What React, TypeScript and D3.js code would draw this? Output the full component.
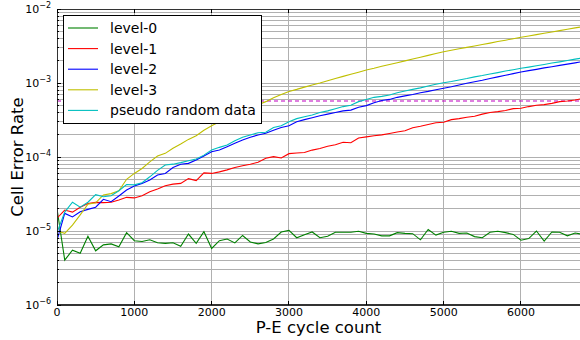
import React from 'react'
import * as d3 from 'd3'

// P-E cycles sampled every 100 cycles
const cycles = d3.range(0, 6801, 100)

const level0 = [
  2.0e-5, 4.05e-6, 5.5e-6, 5.0e-6, 8.5e-6, 5.4e-6, 6.5e-6, 6.7e-6, 6.1e-6, 9.5e-6,
  7.4e-6, 7.2e-6, 7.6e-6, 6.95e-6, 6.8e-6, 6.95e-6, 6.2e-6, 9.1e-6, 6.8e-6, 9.8e-6,
  5.8e-6, 7.4e-6, 7.8e-6, 6.9e-6, 8.7e-6, 7.1e-6, 6.7e-6, 7.0e-6, 7.8e-6, 9.7e-6,
  1.02e-5, 8.1e-6, 8.9e-6, 9.7e-6, 8.1e-6, 8.5e-6, 9.6e-6, 9.6e-6, 9.6e-6, 9.9e-6,
  9.3e-6, 9.1e-6, 8.6e-6, 8.6e-6, 9.5e-6, 9.3e-6, 9.2e-6, 7.6e-6, 1.05e-5, 8.8e-6,
  9.6e-6, 9.9e-6, 9.3e-6, 9.4e-6, 8.4e-6, 8.1e-6, 9.6e-6, 9.9e-6, 9.5e-6, 9.0e-6,
  7.5e-6, 7.9e-6, 1.0e-5, 7.3e-6, 9.7e-6, 9.6e-6, 8.6e-6, 9.4e-6, 9.0e-6
]

const level1 = [
  1.49e-5, 1.92e-5, 1.8e-5, 2.09e-5, 2.35e-5, 2.44e-5, 2.42e-5, 2.45e-5, 2.62e-5, 2.85e-5,
  2.8e-5, 3.0e-5, 3.4e-5, 3.7e-5, 4.1e-5, 4.3e-5, 4.4e-5, 5.1e-5, 4.8e-5, 6.1e-5,
  6.0e-5, 6.3e-5, 6.7e-5, 7.2e-5, 7.6e-5, 8.0e-5, 8.5e-5, 9.6e-5, 1.01e-4, 9.7e-5,
  1.11e-4, 1.13e-4, 1.15e-4, 1.24e-4, 1.3e-4, 1.4e-4, 1.46e-4, 1.58e-4, 1.56e-4, 1.81e-4,
  1.87e-4, 1.94e-4, 1.99e-4, 2.08e-4, 2.18e-4, 2.26e-4, 2.48e-4, 2.6e-4, 2.75e-4, 2.9e-4,
  2.95e-4, 3.2e-4, 3.3e-4, 3.45e-4, 3.55e-4, 3.8e-4, 4.0e-4, 4.1e-4, 4.25e-4, 4.5e-4,
  4.55e-4, 4.8e-4, 5.0e-4, 5.1e-4, 5.3e-4, 5.6e-4, 5.7e-4, 5.9e-4, 6.2e-4
]

const level2 = [
  7.5e-6, 1.73e-5, 1.55e-5, 1.82e-5, 1.96e-5, 2.1e-5, 2.68e-5, 2.49e-5, 2.97e-5, 3.58e-5,
  4.06e-5, 4.4e-5, 4.9e-5, 5.7e-5, 6.0e-5, 7.2e-5, 8.0e-5, 8.2e-5, 9.1e-5, 1.03e-4,
  1.18e-4, 1.24e-4, 1.38e-4, 1.53e-4, 1.7e-4, 1.85e-4, 1.98e-4, 2.09e-4, 2.3e-4, 2.5e-4,
  2.65e-4, 3.0e-4, 3.2e-4, 3.4e-4, 3.6e-4, 3.8e-4, 4.0e-4, 4.2e-4, 4.3e-4, 4.7e-4,
  4.95e-4, 5.4e-4, 5.8e-4, 6.0e-4, 6.4e-4, 6.7e-4, 7.0e-4, 7.4e-4, 7.7e-4, 8.1e-4,
  8.5e-4, 8.9e-4, 9.4e-4, 9.9e-4, 1.04e-3, 1.09e-3, 1.15e-3, 1.21e-3, 1.27e-3, 1.34e-3,
  1.41e-3, 1.47e-3, 1.53e-3, 1.6e-3, 1.66e-3, 1.73e-3, 1.8e-3, 1.87e-3, 1.95e-3
]

const level3 = [
  1.0e-5, 9.3e-6, 1.2e-5, 1.65e-5, 2.3e-5, 2.4e-5, 3.07e-5, 3.2e-5, 3.5e-5, 5.0e-5,
  6.0e-5, 7.0e-5, 8.6e-5, 1.03e-4, 1.12e-4, 1.31e-4, 1.5e-4, 1.73e-4, 1.94e-4, 2.3e-4,
  2.65e-4, 3.0e-4, 3.36e-4, 3.73e-4, 4.15e-4, 4.6e-4, 5.1e-4, 5.6e-4, 6.3e-4, 7.0e-4,
  7.7e-4, 8.2e-4, 8.8e-4, 9.4e-4, 1.0e-3, 1.07e-3, 1.15e-3, 1.23e-3, 1.31e-3, 1.4e-3,
  1.5e-3, 1.58e-3, 1.68e-3, 1.78e-3, 1.88e-3, 1.99e-3, 2.11e-3, 2.23e-3, 2.36e-3, 2.5e-3,
  2.65e-3, 2.77e-3, 2.9e-3, 3.03e-3, 3.17e-3, 3.31e-3, 3.46e-3, 3.63e-3, 3.79e-3, 3.97e-3,
  4.15e-3, 4.32e-3, 4.51e-3, 4.7e-3, 4.9e-3, 5.1e-3, 5.32e-3, 5.56e-3, 5.78e-3
]

const pseudo = [
  9.5e-6, 1.8e-5, 2.45e-5, 2.1e-5, 2.45e-5, 3.1e-5, 2.9e-5, 3.0e-5, 3.5e-5, 4.25e-5,
  4.2e-5, 4.5e-5, 5.4e-5, 6.6e-5, 7.8e-5, 8.0e-5, 8.4e-5, 8.9e-5, 9.4e-5, 1.06e-4,
  1.24e-4, 1.35e-4, 1.45e-4, 1.66e-4, 1.85e-4, 1.98e-4, 2.13e-4, 2.16e-4, 2.5e-4, 2.65e-4,
  3.0e-4, 3.3e-4, 3.5e-4, 3.7e-4, 4.0e-4, 4.2e-4, 4.5e-4, 4.8e-4, 5.0e-4, 5.6e-4,
  6.0e-4, 6.4e-4, 6.6e-4, 6.9e-4, 7.4e-4, 7.8e-4, 8.2e-4, 8.6e-4, 9.1e-4, 9.6e-4,
  1.01e-3, 1.05e-3, 1.1e-3, 1.15e-3, 1.21e-3, 1.26e-3, 1.32e-3, 1.38e-3, 1.45e-3, 1.51e-3,
  1.58e-3, 1.64e-3, 1.71e-3, 1.78e-3, 1.86e-3, 1.93e-3, 2.01e-3, 2.1e-3, 2.18e-3
]

const threshold = 5.7e-4

const seriesNames = ['level-0', 'level-1', 'level-2', 'level-3', 'pseudo random data']
const seriesValues = [level0, level1, level2, level3, pseudo]
const seriesColors = ['#008000', '#ff0000', '#0000ff', '#bfbf00', '#00bfbf']

const xTicks = [0, 1000, 2000, 3000, 4000, 5000, 6000]
const yDecades = [-6, -5, -4, -3, -2]

const W = 580
const H = 340
const left = 57
const top = 9
const bottom = 305

export default function App() {
  const x = d3.scaleLinear().domain([0, 7000]).range([left, left + 541.3])
  const y = d3.scaleLog().domain([1e-6, 1e-2]).range([bottom, top])

  const line = d3
    .line<number>()
    .x((d, i) => x(cycles[i]))
    .y(d => y(d))

  // minor + major horizontal grid lines
  const hGrid: number[] = []
  yDecades.forEach(e => {
    const k = e === -2 ? [1] : [1, 2, 3, 4, 5, 6, 7, 8, 9]
    k.forEach(m => hGrid.push(m * Math.pow(10, e)))
  })

  const font = 'DejaVu Sans, sans-serif'
  const right = W + 20

  return (
    <svg
      width={W}
      height={H}
      style={{ position: 'absolute', left: 0, top: 0, background: '#fff' }}
      fontFamily={font}
    >
      <defs>
        <clipPath id="plot">
          <rect x={left} y={top} width={right - left} height={bottom - top} />
        </clipPath>
      </defs>
      <rect x={0} y={0} width={W} height={H} fill="#fff" />

      {/* grid */}
      <g stroke="#b0b0b0" strokeWidth={1} shapeRendering="crispEdges">
        {hGrid.map((v, i) => (
          <line key={'h' + i} x1={left} x2={right} y1={y(v)} y2={y(v)} />
        ))}
        {xTicks.map(t => (
          <line key={'v' + t} x1={x(t)} x2={x(t)} y1={top} y2={bottom} />
        ))}
      </g>

      {/* series */}
      <g clipPath="url(#plot)" fill="none" strokeWidth={1.1}>
        <line
          x1={left}
          x2={right}
          y1={y(threshold)}
          y2={y(threshold)}
          stroke="#bf00bf"
          strokeDasharray="4,3"
        />
        {seriesValues.map((vals, i) => (
          <path key={i} d={line(vals) || ''} stroke={seriesColors[i]} />
        ))}
      </g>

      {/* spines */}
      <g stroke="#333" strokeWidth={1} shapeRendering="crispEdges">
        <line x1={left} x2={left} y1={top} y2={bottom} />
        <line x1={left} x2={right} y1={top} y2={top} />
        <line x1={left} x2={right} y1={bottom} y2={bottom} strokeWidth={1.5} />
      </g>

      {/* ticks */}
      <g stroke="#000" strokeWidth={1} shapeRendering="crispEdges">
        {xTicks.map(t => (
          <g key={'xt' + t}>
            <line x1={x(t)} x2={x(t)} y1={bottom} y2={bottom - 4} />
            <line x1={x(t)} x2={x(t)} y1={top} y2={top + 4} />
          </g>
        ))}
        {hGrid.map((v, i) => (
          <line
            key={'yt' + i}
            x1={left}
            x2={left + (Math.abs(Math.log10(v) - Math.round(Math.log10(v))) < 1e-9 ? 4 : 2)}
            y1={y(v)}
            y2={y(v)}
          />
        ))}
      </g>

      {/* x tick labels */}
      {xTicks.map(t => (
        <text key={'xl' + t} x={x(t)} y={316} fontSize={11} textAnchor="middle" fill="#000">
          {t}
        </text>
      ))}

      {/* y tick labels */}
      {yDecades.map(e => (
        <text key={'yl' + e} x={51} y={y(Math.pow(10, e)) + 4} fontSize={11} textAnchor="end" fill="#000">
          10
          <tspan fontSize={8} dy={-5}>
            {String(e).replace('-', '\u2212')}
          </tspan>
        </text>
      ))}

      {/* axis labels */}
      <text x={(left + W) / 2} y={333} fontSize={16.5} textAnchor="middle" fill="#000">
        P-E cycle count
      </text>
      <text
        transform={`translate(23, ${(top + bottom) / 2}) rotate(-90)`}
        fontSize={16.5}
        textAnchor="middle"
        fill="#000"
      >
        Cell Error Rate
      </text>

      {/* legend */}
      <g>
        <rect x={63.5} y={15.5} width={198} height={108} fill="#fff" stroke="#000" strokeWidth={1} />
        {seriesNames.map((name, i) => {
          const ly = 28 + i * 20.6
          return (
            <g key={name}>
              <line x1={68} x2={98} y1={ly} y2={ly} stroke={seriesColors[i]} strokeWidth={1.1} />
              <text x={110} y={ly + 5} fontSize={14} fill="#000">
                {name}
              </text>
            </g>
          )
        })}
      </g>
    </svg>
  )
}
